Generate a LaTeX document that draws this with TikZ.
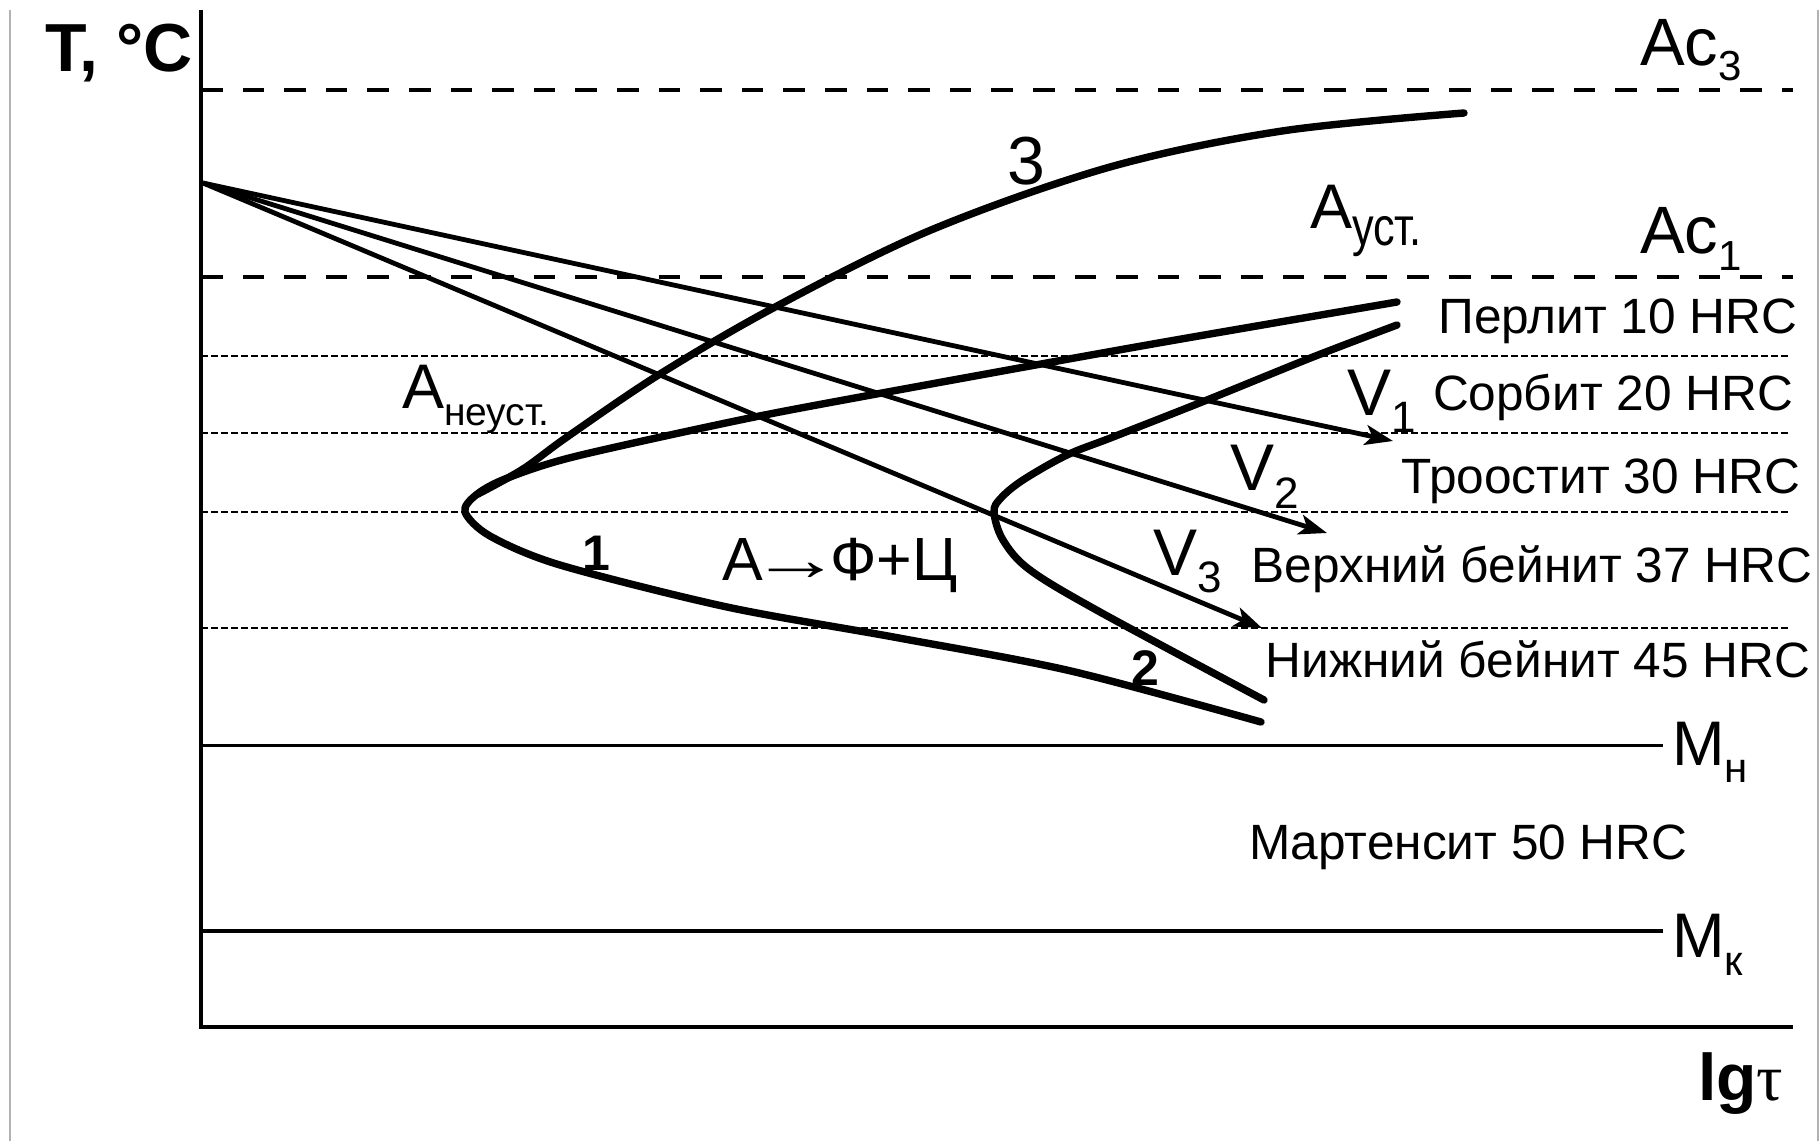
\documentclass[tikz,border=0pt]{standalone}
\usepackage{fontspec}
\setmainfont{Liberation Sans}
\newfontfamily\tauf{Liberation Serif}
\usetikzlibrary{arrows.meta}
\newcommand\fs[1]{\fontsize{#1}{#1}\selectfont}
\begin{document}
\begin{tikzpicture}[x=0.5pt,y=-0.5pt,
  every node/.style={inner sep=0pt,outer sep=0pt},
  lbl/.style={anchor=base west},
  lble/.style={anchor=base east,font=\fs{24.8}},
  frameline/.style={draw=gray!60,line width=0.8pt},
  axisline/.style={line width=1.8pt},
  acline/.style={line width=2.2pt,dash pattern=on 10.8pt off 10pt},
  phaseline/.style={line width=1.4pt,dash pattern=on 3.4pt off 1.6pt},
  mline/.style={line width=1.5pt},
  ccurve/.style={line width=3.7pt,line cap=round,line join=round},
  cool/.style={line width=2.4pt,-{Stealth[length=14pt,width=10pt,inset=3.5pt]}}]
\useasboundingbox (0,0) rectangle (1820,1141);
% frame
\draw[frameline] (10,10) -- (10,1141);
\draw[frameline] (1818,10) -- (1818,1141);
% axes
\coordinate (ytop) at (201,10);
\coordinate (orig) at (201,1027);
\coordinate (xend) at (1793,1027);
\draw[axisline] (ytop) -- (orig) -- (xend);
% critical lines
\draw[acline] (201,90) -- (1793,90);
\draw[acline] (201,277) -- (1793,277);
\foreach \yy in {356,433,512,628} \draw[phaseline] (201,\yy) -- (1790,\yy);
\draw[mline] (201,745) -- (1663,745);
\draw[mline,line width=2pt] (201,931) -- (1663,931);
% C-curve 1
\draw[ccurve] plot[smooth,tension=0.5] coordinates {(1261,722) (1071,671) (899,638) (727,607) (560,565) (490,536) (465,512) (476,495) (505,479) (573,457) (740,420) (871,395) (1147,345) (1397,302)};
% C-curve 2
\draw[ccurve] plot[smooth,tension=0.55] coordinates {(1264,700) (1100,612) (1030,570) (1003,540) (994,512) (1001,498) (1023,480) (1067,455) (1113,437) (1207,400) (1313,357) (1397,325)};
% curve 3
\draw[ccurve] plot[smooth,tension=0.55] coordinates {(478,494) (523,469) (567,437) (660,374) (777,306) (931,230) (1110,167) (1282,131) (1464,113)};
% cooling curves
\coordinate (c0) at (203,183);
\coordinate (c1) at (1393,441);
\coordinate (c2) at (1327,533);
\coordinate (c3) at (1262,628);
\draw[cool] (c0) -- (c1);
\draw[cool] (c0) -- (c2);
\draw[cool] (c0) -- (c3);
% labels
\node[lbl,font=\bfseries\fs{34}] (tc) at (45,71) {T, °C};
\node[lbl,font=\fs{33.5}] (ac3) at (1640,65) {Ac\raisebox{-7.5pt}{\fs{21}3}};
\node[lbl,font=\fs{33.5}] (ac1) at (1640,253) {Ac\raisebox{-8.5pt}{\fs{21}1}};
\node[lbl,font=\fs{31.5}] (aust) at (1310,228) {А\raisebox{-8.5pt}{\scalebox{0.8}[1]{\fs{27}уст.}}};
\node[lbl,font=\fs{31.5}] (aneust) at (402,408) {А\raisebox{-8.5pt}{\fs{19.5}неуст.}};
\node[lble] (perl) at (1797,333) {Перлит 10 HRC};
\node[lble] (sorb) at (1793,410) {Сорбит 20 HRC};
\node[lble] (troo) at (1800,493) {Троостит 30 HRC};
\node[lble] (vb) at (1812,582) {Верхний бейнит 37 HRC};
\node[lble] (nb) at (1810,677) {Нижний бейнит 45 HRC};
\node[lbl,font=\fs{24.8}] (mart) at (1249,859) {Мартенсит 50 HRC};
\node[lbl,font=\fs{31.5}] (mn) at (1672,765) {M\raisebox{-8.5pt}{\fs{21}н}};
\node[lbl,font=\fs{31.5}] (mk) at (1672,957) {M\raisebox{-9pt}{\fs{21}к}};
\node[lbl,font=\fs{33}] (lgt) at (1698,1100) {\textbf{lg}{\tauf τ}};
\node[lbl,font=\fs{33}] (v1) at (1347,415) {V\raisebox{-8.5pt}{\fs{22}1}};
\node[lbl,font=\fs{33}] (v2) at (1230,490) {V\raisebox{-9pt}{\fs{22}2}};
\node[lbl,font=\fs{33}] (v3) at (1153,575) {V\raisebox{-8.5pt}{\fs{22}3}};
\node[lbl,font=\bfseries\fs{25}] (n1) at (582,570) {1};
\node[lbl,font=\bfseries\fs{25}] (n2) at (1131,685) {2};
\node[lbl,font=\fs{34}] (n3) at (1007,184) {3};
\node[lbl,font=\fs{30.5}] (reac) at (722,580) {А\kern-6pt\scalebox{1.5}[1]{→}\kern-6pt Ф+Ц};
\end{tikzpicture}
\end{document}
